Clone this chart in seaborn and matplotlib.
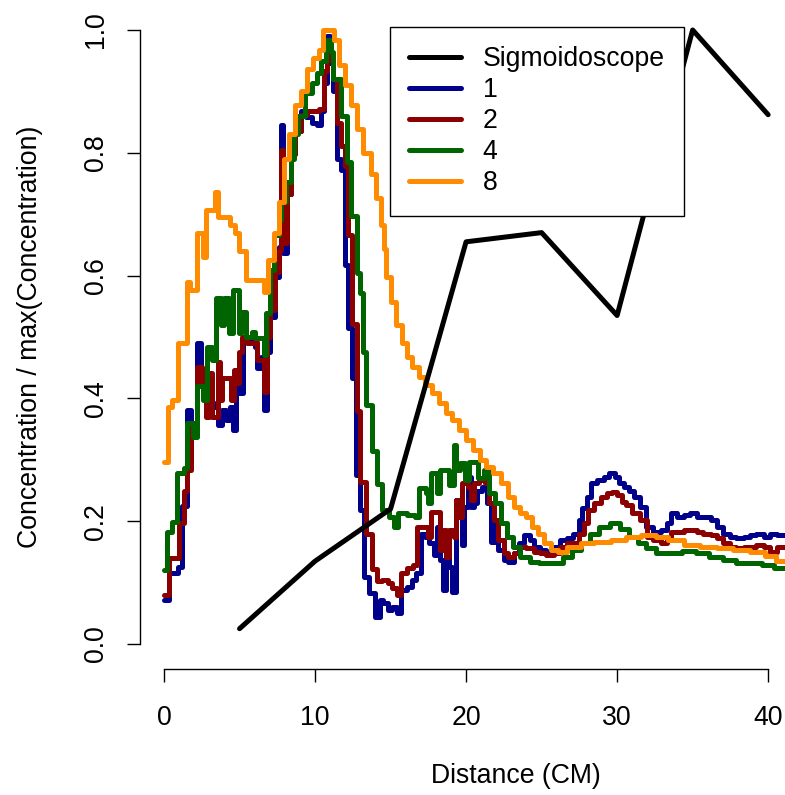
import matplotlib
matplotlib.use("Agg")
import matplotlib.pyplot as plt
from matplotlib.lines import Line2D
import pandas as pd
import seaborn as sns

# Sigmoidoscope readings
scope_x = [5, 10, 15, 20, 25, 30, 35, 40]
scope_y = [0.025, 0.135, 0.22, 0.655, 0.67, 0.535, 1.0, 0.862]

# step series (breakpoints, value held until next breakpoint)
blue_x = [0.0, 0.35, 0.9, 1.2, 1.55, 1.8, 2.2, 2.45, 2.65, 3.0, 3.3, 3.55, 3.85, 4.1,
          4.4, 4.55, 4.75, 4.95, 5.2, 5.75, 6.0, 6.15, 6.4, 6.65, 6.85, 7.05, 7.35,
          7.6, 7.75, 7.9, 8.15, 8.4, 8.7, 9.05, 9.4, 9.8, 10.15, 10.4, 10.6, 10.8,
          11.0, 11.2, 11.45, 11.7, 11.95, 12.2, 12.45, 12.7, 13.0, 13.25, 13.6, 14.0,
          14.3, 14.5, 14.8, 15.1, 15.4, 15.7, 16.1, 16.4, 16.7, 17.0, 17.3, 17.55,
          17.85, 18.05, 18.25, 18.45, 18.65, 18.85, 19.05, 19.35, 19.55, 19.75, 19.85,
          20.1, 20.35, 20.55, 20.75, 21.05, 21.4, 21.65, 21.9, 22.1, 22.5, 22.8, 23.15,
          23.5, 23.85, 24.2, 24.5, 24.9, 25.3, 25.8, 26.2, 26.7, 27.1, 27.45, 27.7,
          28.0, 28.3, 28.7, 29.1, 29.45, 29.85, 30.1, 30.45, 30.8, 31.1, 31.5, 31.9,
          32.4, 32.9, 33.3, 33.55, 33.95, 34.4, 34.85, 35.3, 36.2, 36.6, 37.0, 37.5,
          37.9, 38.4, 38.8, 39.2, 39.7, 40.1, 40.6, 41.2]
blue_y = [0.072, 0.115, 0.126, 0.224, 0.381, 0.348, 0.49, 0.446, 0.413, 0.392, 0.386,
          0.357, 0.381, 0.365, 0.386, 0.348, 0.438, 0.409, 0.5, 0.495, 0.484, 0.449,
          0.467, 0.381, 0.476, 0.533, 0.598, 0.647, 0.845, 0.637, 0.733, 0.798, 0.836,
          0.868, 0.858, 0.849, 0.845, 0.868, 0.914, 0.99, 0.946, 0.9, 0.79, 0.772,
          0.617, 0.515, 0.433, 0.275, 0.218, 0.109, 0.083, 0.044, 0.072, 0.067, 0.055,
          0.06, 0.05, 0.088, 0.093, 0.104, 0.115, 0.18, 0.175, 0.165, 0.145, 0.19,
          0.137, 0.088, 0.153, 0.126, 0.085, 0.234, 0.207, 0.161, 0.223, 0.272, 0.223,
          0.229, 0.25, 0.256, 0.229, 0.166, 0.202, 0.153, 0.137, 0.134, 0.148, 0.164,
          0.177, 0.17, 0.158, 0.153, 0.15, 0.158, 0.17, 0.172, 0.18, 0.202, 0.221,
          0.24, 0.262, 0.267, 0.272, 0.278, 0.272, 0.262, 0.256, 0.25, 0.24, 0.223,
          0.19, 0.182, 0.186, 0.197, 0.213, 0.207, 0.21, 0.213, 0.207, 0.202, 0.19,
          0.18, 0.175, 0.172, 0.175, 0.177, 0.18, 0.175, 0.18, 0.177, 0.175]

red_x = [0.0, 0.35, 1.0, 1.3, 1.55, 1.8, 2.0, 2.2, 2.5, 2.75, 3.0, 3.2, 3.55, 3.68,
         3.85, 4.45, 4.65, 4.85, 4.95, 5.15, 5.5, 5.95, 6.15, 6.65, 6.85, 7.05, 7.35,
         7.6, 7.75, 7.9, 8.15, 8.4, 8.7, 9.05, 9.45, 10.25, 10.6, 10.8, 11.0, 11.2,
         11.45, 11.7, 11.95, 12.2, 12.45, 12.75, 13.0, 13.35, 13.75, 14.1, 14.4, 14.8,
         15.1, 15.4, 15.7, 16.1, 16.5, 16.75, 17.45, 17.7, 18.25, 18.45, 18.65, 18.85,
         19.2, 19.35, 19.55, 19.75, 20.1, 20.35, 20.55, 20.85, 21.25, 21.55, 21.85,
         22.1, 22.5, 22.8, 23.15, 23.6, 24.0, 24.5, 24.9, 25.3, 25.8, 26.2, 26.7,
         27.45, 27.8, 28.1, 28.45, 28.9, 29.3, 29.65, 30.0, 30.3, 30.6, 31.0, 31.5,
         31.95, 32.4, 32.9, 33.3, 33.55, 34.4, 35.3, 35.7, 36.2, 36.6, 37.0, 37.5,
         37.9, 38.4, 39.2, 39.7, 40.1, 40.6, 41.2]
red_y = [0.08, 0.14, 0.197, 0.25, 0.283, 0.36, 0.343, 0.451, 0.419, 0.37, 0.441, 0.37,
         0.459, 0.397, 0.433, 0.397, 0.446, 0.425, 0.476, 0.5, 0.49, 0.492, 0.463,
         0.41, 0.5, 0.544, 0.606, 0.642, 0.804, 0.653, 0.733, 0.798, 0.836, 0.862,
         0.868, 0.871, 0.933, 0.984, 0.951, 0.92, 0.849, 0.811, 0.778, 0.666, 0.521,
         0.379, 0.264, 0.179, 0.122, 0.103, 0.104, 0.099, 0.091, 0.08, 0.115, 0.124,
         0.129, 0.19, 0.175, 0.215, 0.153, 0.186, 0.142, 0.186, 0.175, 0.234, 0.207,
         0.262, 0.256, 0.234, 0.262, 0.267, 0.262, 0.229, 0.202, 0.17, 0.148, 0.142,
         0.148, 0.158, 0.156, 0.15, 0.148, 0.145, 0.148, 0.158, 0.164, 0.18, 0.197,
         0.218, 0.23, 0.24, 0.246, 0.248, 0.243, 0.231, 0.226, 0.213, 0.202, 0.175,
         0.17, 0.164, 0.175, 0.182, 0.186, 0.182, 0.18, 0.177, 0.172, 0.164, 0.158,
         0.156, 0.158, 0.161, 0.158, 0.15, 0.158, 0.156]

green_x = [0.0, 0.2, 0.5, 0.85, 1.35, 1.55, 1.95, 2.2, 2.6, 2.85, 3.15, 3.45, 3.75,
           4.0, 4.3, 4.55, 4.95, 5.1, 5.4, 5.85, 6.05, 6.6, 6.75, 7.0, 7.3, 7.6, 7.75,
           8.1, 8.4, 8.6, 8.9, 9.35, 9.8, 10.1, 10.4, 10.75, 11.05, 11.2, 11.7, 12.1,
           12.4, 12.75, 13.0, 13.15, 13.4, 13.75, 14.1, 14.45, 14.9, 15.2, 15.5, 16.1,
           16.6, 16.9, 17.35, 17.45, 17.7, 18.1, 18.3, 18.85, 19.2, 19.35, 19.6, 19.95,
           20.2, 20.8, 21.2, 21.5, 21.9, 22.3, 22.7, 23.1, 23.6, 24.2, 24.8, 26.4,
           27.0, 27.6, 28.2, 28.8, 29.5, 30.2, 30.8, 31.4, 31.9, 32.6, 34.3, 35.2,
           36.1, 37.0, 37.9, 39.6, 40.4, 41.2]
green_y = [0.12, 0.182, 0.198, 0.278, 0.286, 0.36, 0.337, 0.42, 0.397, 0.484, 0.463,
           0.563, 0.52, 0.563, 0.507, 0.576, 0.507, 0.54, 0.5, 0.508, 0.498, 0.47,
           0.539, 0.609, 0.666, 0.69, 0.72, 0.752, 0.79, 0.83, 0.86, 0.897, 0.913,
           0.93, 0.95, 0.984, 0.964, 0.92, 0.86, 0.785, 0.697, 0.604, 0.572, 0.475,
           0.389, 0.314, 0.26, 0.218, 0.207, 0.19, 0.213, 0.21, 0.207, 0.254, 0.246,
           0.23, 0.278, 0.246, 0.283, 0.259, 0.324, 0.283, 0.295, 0.267, 0.297, 0.27,
           0.283, 0.246, 0.23, 0.197, 0.175, 0.158, 0.142, 0.134, 0.132, 0.142, 0.153,
           0.164, 0.18, 0.19, 0.197, 0.188, 0.175, 0.164, 0.156, 0.148, 0.151, 0.148,
           0.142, 0.137, 0.132, 0.129, 0.124, 0.124]

orange_x = [0.0, 0.25, 0.5, 0.9, 1.55, 1.75, 2.2, 2.55, 2.8, 3.4, 3.55, 4.4, 4.7, 4.95,
            5.4, 6.6, 6.9, 7.25, 7.6, 7.95, 8.3, 8.7, 9.1, 9.5, 9.85, 10.25, 10.55,
            11.25, 11.6, 11.95, 12.4, 12.8, 13.2, 13.7, 14.05, 14.35, 14.55, 14.7,
            15.0, 15.35, 15.75, 16.1, 16.45, 16.85, 17.3, 17.75, 18.2, 18.65, 19.1,
            19.55, 20.0, 20.45, 20.9, 21.35, 21.8, 22.3, 22.75, 23.15, 23.6, 24.0,
            24.35, 24.75, 25.15, 25.6, 26.1, 26.7, 27.6, 28.5, 29.6, 30.6, 31.6, 32.6,
            33.4, 34.4, 35.5, 36.6, 37.7, 38.8, 39.8, 40.5, 41.2]
orange_y = [0.296, 0.386, 0.397, 0.49, 0.59, 0.577, 0.67, 0.63, 0.707, 0.736, 0.695,
            0.682, 0.67, 0.64, 0.593, 0.573, 0.625, 0.67, 0.72, 0.79, 0.83, 0.878, 0.9,
            0.936, 0.955, 0.968, 1.0, 0.984, 0.943, 0.91, 0.878, 0.839, 0.8, 0.765,
            0.726, 0.682, 0.643, 0.598, 0.557, 0.52, 0.49, 0.467, 0.451, 0.435, 0.422,
            0.409, 0.392, 0.376, 0.365, 0.349, 0.332, 0.316, 0.3, 0.288, 0.278, 0.262,
            0.24, 0.223, 0.213, 0.207, 0.19, 0.18, 0.164, 0.153, 0.15, 0.158, 0.164,
            0.166, 0.17, 0.174, 0.178, 0.175, 0.17, 0.161, 0.158, 0.156, 0.153, 0.15,
            0.143, 0.136, 0.134]

series_names = ["1", "2", "4", "8"]
series_colors = ["#00008B", "#8B0000", "#006400", "#FF8C00"]

sns.set_theme(style="ticks", rc={"text.color": "black", "axes.labelcolor": "black",
                                 "xtick.color": "black", "ytick.color": "black",
                                 "axes.edgecolor": "black"})
plt.rcParams["font.family"] = ["Liberation Sans", "DejaVu Sans"]

frames = []
for name, xs, ys in zip(series_names, [blue_x, red_x, green_x, orange_x],
                        [blue_y, red_y, green_y, orange_y]):
    frames.append(pd.DataFrame({"distance": xs, "conc": ys, "series": name}))
df = pd.concat(frames, ignore_index=True)
scope = pd.DataFrame({"distance": scope_x, "conc": scope_y})

FS = 19.2
LW = 3.6

fig = plt.figure(figsize=(7.85, 7.95), dpi=100)
ax = fig.add_axes([140 / 785, (795 - 668.6) / 795, 752 / 785, 663.2 / 795])

# draw in the original order: 1, 2, 4, 8, then the scope on top
for name, color in zip(series_names, series_colors):
    sns.lineplot(data=df[df["series"] == name], x="distance", y="conc", ax=ax,
                 color=color, linewidth=LW, drawstyle="steps-post",
                 estimator=None, sort=False, legend=False)
sns.lineplot(data=scope, x="distance", y="conc", ax=ax, color="black",
             linewidth=LW, estimator=None, sort=False, legend=False)

ax.set_xlim(-1.59, 48.2)
ax.set_ylim(-0.04, 1.04)
ax.set_xticks([0, 10, 20, 30, 40])
ax.set_yticks([0.0, 0.2, 0.4, 0.6, 0.8, 1.0])
ax.set_yticklabels(["0.0", "0.2", "0.4", "0.6", "0.8", "1.0"])

for side in ["top", "right"]:
    ax.spines[side].set_visible(False)
ax.spines["bottom"].set_bounds(0, 40)
ax.spines["left"].set_bounds(0, 1)
for side in ["bottom", "left"]:
    ax.spines[side].set_linewidth(1.0)
    ax.spines[side].set_color("black")

ax.tick_params(axis="both", direction="out", length=9.4, width=1.0,
               labelsize=FS, colors="black", labelcolor="black")
ax.tick_params(axis="x", pad=17)
ax.tick_params(axis="y", pad=13, labelrotation=90)
for lab in ax.get_yticklabels():
    lab.set_va("center")

ax.set_xlabel("Distance (CM)", fontsize=FS, color="black")
ax.set_ylabel("Concentration / max(Concentration)", fontsize=FS, color="black")
ax.xaxis.set_label_coords((516 - 140) / 752, (668.6 - 763) / 663.2)
ax.yaxis.set_label_coords((43 - 140) / 752, (668.6 - 337) / 663.2)

handles = [Line2D([], [], color="black", linewidth=LW)]
handles += [Line2D([], [], color=c, linewidth=LW) for c in series_colors]
labels = ["Sigmoidoscope"] + series_names
leg = ax.legend(handles, labels, loc="upper left", bbox_to_anchor=(14.97, 1.005),
                bbox_transform=ax.transData, borderaxespad=0, fontsize=FS,
                frameon=True, fancybox=False, framealpha=1, edgecolor="black",
                handlelength=1.95, handletextpad=0.8, labelspacing=0.19,
                borderpad=0.72)
leg.get_frame().set_linewidth(1.0)
for t in leg.get_texts():
    t.set_color("black")

fig.savefig("out.png", dpi=100, facecolor="white")
